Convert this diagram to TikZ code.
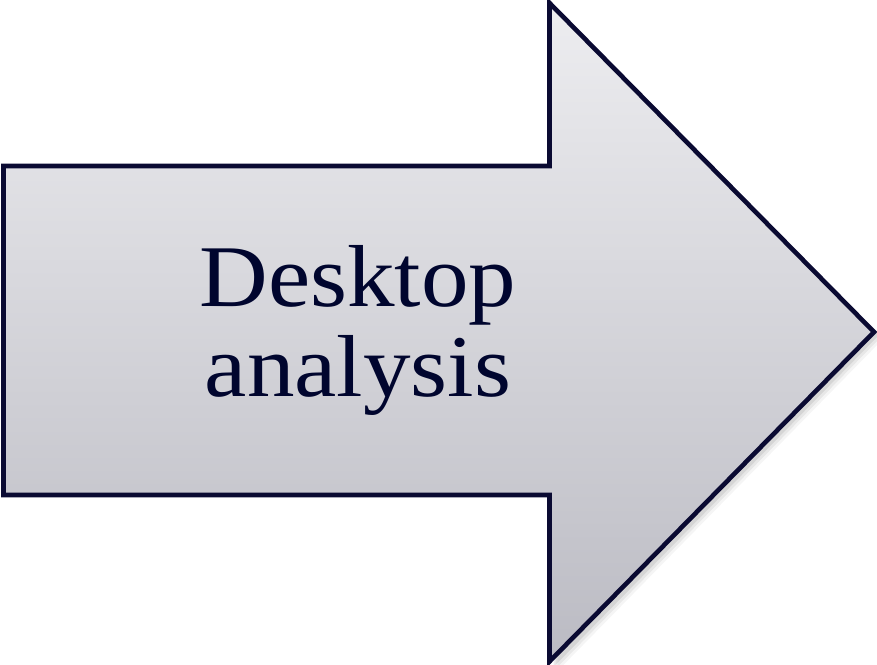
\documentclass[tikz,border=0pt]{standalone}
\usepackage{fontspec}
\setmainfont[FakeStretch=1.08]{Liberation Serif}
\definecolor{edge}{HTML}{0A0A32}
\definecolor{txt}{HTML}{00052E}
\definecolor{topc}{HTML}{EDEDF0}
\definecolor{botc}{HTML}{BBBBC3}
\tikzset{
  arrowshape/.style={draw=edge, line width=4.6pt, line join=miter, miter limit=10,
    top color=topc, bottom color=botc},
  label/.style={text=txt, font=\fontsize{88}{92}\selectfont, inner sep=0pt, anchor=base}
}
\begin{document}
\begin{tikzpicture}[x=1pt,y=1pt]
\useasboundingbox (0,0) rectangle (877,664);
% soft shadow
\foreach \o/\a in {8/0.04,6/0.06,4/0.08}{
  \fill[black, opacity=\a, xshift=\o pt, yshift=-\o pt]
    (3.5,498) -- (549.5,498) -- (549.5,1) -- (875,333) -- (549.5,661) -- (549.5,498) -- cycle;
}
\path[arrowshape]
  (3.5,498) -- (549.5,498) -- (549.5,661) -- (874,332) -- (549.5,2.5) -- (549.5,169) -- (3.5,169) -- cycle;
\node[label] (l1) at (358,357) {Desktop};
\node[label] (l2) at (358,267) {analysis};
\end{tikzpicture}
\end{document}
